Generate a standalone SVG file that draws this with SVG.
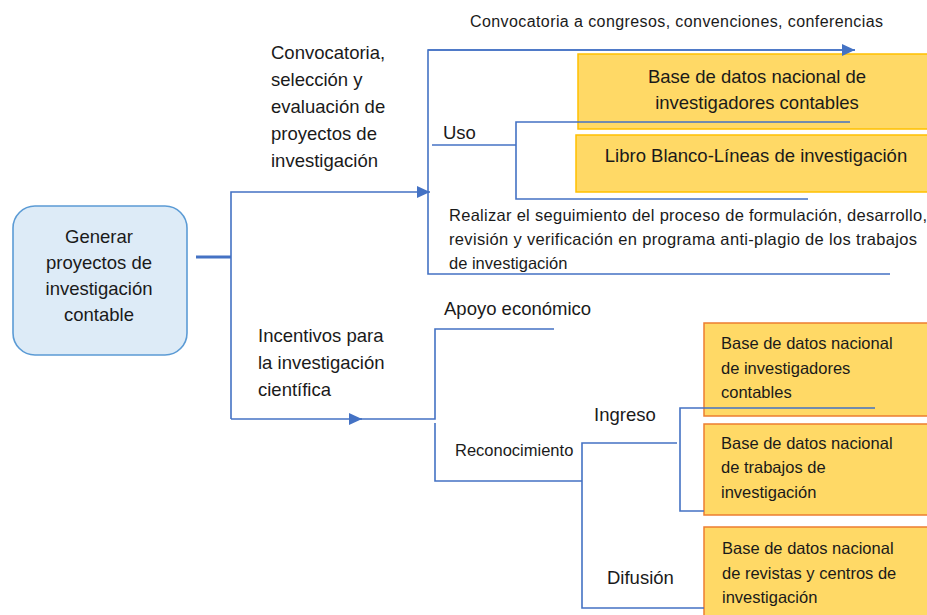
<svg xmlns="http://www.w3.org/2000/svg" width="927" height="615" viewBox="0 0 927 615">
<style>
text{font-family:"Liberation Sans","Noto Sans",sans-serif;fill:#1a1a1a}
.l{font-size:18.5px}
.s{font-size:16.5px}
.c{stroke:#4472C4;stroke-width:1.6;fill:none}
.y1{fill:#FFD966;stroke:#FFC000;stroke-width:1.5}
.y2{fill:#FFD966;stroke:#ED7D31;stroke-width:1.5}
</style>
<defs>
<marker id="ah" markerUnits="userSpaceOnUse" markerWidth="14" markerHeight="14" refX="13" refY="7" orient="auto">
<path d="M0,1 L13,7 L0,13 z" fill="#4472C4"/>
</marker>
</defs>
<rect width="927" height="615" fill="#fff"/>

<g id="root">
<rect x="13" y="206" width="174" height="149" rx="22" fill="#DDEBF7" stroke="#5B9BD5" stroke-width="1.6"/>
<text class="l" text-anchor="middle" x="99" y="243">Generar</text>
<text class="l" text-anchor="middle" x="99" y="269">proyectos de</text>
<text class="l" text-anchor="middle" x="99" y="295">investigación</text>
<text class="l" text-anchor="middle" x="99" y="321">contable</text>
</g>

<g id="boxes">
<g id="bd1"><rect class="y1" x="578" y="54" width="352" height="75"/>
<text class="l" text-anchor="middle" x="757" y="83">Base de datos nacional de</text>
<text class="l" text-anchor="middle" x="757" y="109">investigadores contables</text></g>
<g id="libro"><rect class="y1" x="576" y="135" width="354" height="57"/>
<text class="l" text-anchor="middle" x="756" y="162">Libro Blanco-Líneas de investigación</text></g>
<g id="bd2"><rect class="y2" x="704" y="323" width="226" height="93"/>
<text class="s" x="721" y="349">Base de datos nacional</text>
<text class="s" x="721" y="374">de investigadores</text>
<text class="s" x="721" y="398">contables</text></g>
<g id="bd3"><rect class="y2" x="704" y="424" width="226" height="91"/>
<text class="s" x="721" y="449">Base de datos nacional</text>
<text class="s" x="721" y="473">de trabajos de</text>
<text class="s" x="721" y="498">investigación</text></g>
<g id="bd4"><rect class="y2" x="704" y="527" width="226" height="95"/>
<text class="s" x="722" y="554">Base de datos nacional</text>
<text class="s" x="722" y="579">de revistas y centros de</text>
<text class="s" x="722" y="603">investigación</text></g>
</g>

<g id="connectors">
<path d="M196,257 H231" stroke="#4472C4" stroke-width="3" fill="none"/>
<path class="c" d="M231,419 V192 H430" marker-end="url(#ah)"/>
<path class="c" d="M231,419 H362" marker-end="url(#ah)"/>
<path class="c" d="M360,419 H435 V329 H554"/>
<path class="c" d="M855,50 H428 V274 H890"/>
<path class="c" d="M428,50 H855" marker-end="url(#ah)"/>
<path class="c" d="M432,145 H516"/>
<path class="c" d="M850,122 H516 V199 H808"/>
<path class="c" d="M435,423 V481 H582"/>
<path class="c" d="M677,443 H582 V608 H704"/>
<path class="c" d="M875,408 H680 V511 H704"/>
</g>

<g id="labels">
<text x="470" y="27" style="font-size:16px" textLength="413">Convocatoria a congresos, convenciones, conferencias</text>
<text class="l" x="271" y="59">Convocatoria,</text>
<text class="l" x="271" y="86">selección y</text>
<text class="l" x="271" y="113">evaluación de</text>
<text class="l" x="271" y="140">proyectos de</text>
<text class="l" x="271" y="167">investigación</text>
<text class="l" x="443" y="139">Uso</text>
<text class="s" x="449" y="221" textLength="478">Realizar el seguimiento del proceso de formulación, desarrollo,</text>
<text class="s" x="449" y="245" textLength="468">revisión y verificación en programa anti-plagio de los trabajos</text>
<text class="s" x="449" y="269">de investigación</text>
<text class="l" x="444" y="315">Apoyo económico</text>
<text class="l" x="258" y="342">Incentivos para</text>
<text class="l" x="258" y="369">la investigación</text>
<text class="l" x="258" y="396">científica</text>
<text class="s" x="455" y="456">Reconocimiento</text>
<text class="l" x="594" y="421">Ingreso</text>
<text class="l" x="607" y="584">Difusión</text>
</g>
</svg>
